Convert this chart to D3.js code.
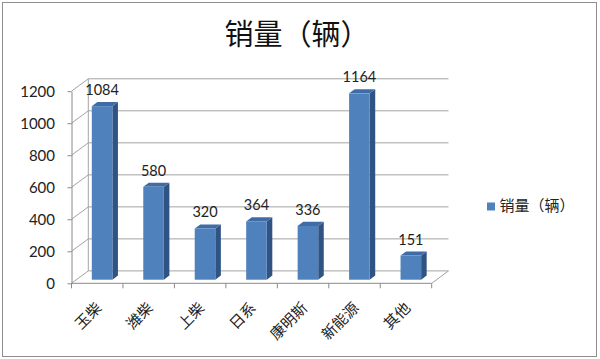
<!DOCTYPE html>
<html>
<head>
<meta charset="utf-8">
<script src="https://cdn.jsdelivr.net/npm/d3@7/dist/d3.min.js"></script>
<style>
  html, body { margin: 0; padding: 0; background: #fff; }
  svg { display: block; }
</style>
</head>
<body>
<svg id="chart" width="600" height="359"></svg>
<script>
const categories = ["玉柴", "潍柴", "上柴", "日系", "康明斯", "新能源", "其他"];
const sales = [1084, 580, 320, 364, 336, 1164, 151];
const yTicks = [0, 200, 400, 600, 800, 1000, 1200];
const titleText = "销量（辆）";
const seriesName = "销量（辆）";

(function () {
const svg = d3.select("#chart");

// outer border
svg.append("rect").attr("x", 2.5).attr("y", 2.5).attr("width", 594).attr("height", 354)
  .attr("fill", "#fff").attr("stroke", "#8e8e8e").attr("stroke-width", 1);

// 3D oblique depth offset
const DX = 16.8, DY = -12.4;
const x0 = 71.5, x1 = 431.7;

const y = d3.scaleLinear().domain([0, 1200]).range([283.3, 91.2]);
const x = d3.scaleBand().domain(categories).range([x0, x1]).paddingInner(0.6).paddingOuter(0.3);
const step = x.step();

const gridColor = "#a3a3a3";

// back wall gridlines
svg.append("g").selectAll("line").data(yTicks).join("line")
  .attr("x1", x0 + DX).attr("x2", x1 + DX)
  .attr("y1", d => y(d) + DY).attr("y2", d => y(d) + DY)
  .attr("stroke", gridColor).attr("stroke-width", 1);

// side wall diagonals
svg.append("g").selectAll("line").data(yTicks).join("line")
  .attr("x1", x0).attr("x2", x0 + DX)
  .attr("y1", d => y(d)).attr("y2", d => y(d) + DY)
  .attr("stroke", gridColor).attr("stroke-width", 1);

// back wall left edge
svg.append("line").attr("x1", x0 + DX).attr("x2", x0 + DX)
  .attr("y1", y(0) + DY).attr("y2", y(1200) + DY)
  .attr("stroke", gridColor).attr("stroke-width", 1);

// floor right edge
svg.append("line").attr("x1", x1).attr("x2", x1 + DX)
  .attr("y1", y(0)).attr("y2", y(0) + DY)
  .attr("stroke", gridColor).attr("stroke-width", 1);

// x axis line + ticks at band boundaries
const axisColor = "#8a8a8a";
svg.append("line").attr("x1", x0).attr("x2", x1).attr("y1", y(0)).attr("y2", y(0))
  .attr("stroke", axisColor).attr("stroke-width", 1);
const bounds = d3.range(categories.length + 1).map(i => x0 + i * step);
svg.append("g").selectAll("line").data(bounds).join("line")
  .attr("x1", d => d).attr("x2", d => d)
  .attr("y1", y(0)).attr("y2", y(0) + 5)
  .attr("stroke", axisColor).attr("stroke-width", 1);

// y axis
const yAxis = svg.append("g").attr("transform", `translate(${x0},0)`)
  .call(d3.axisLeft(y).tickValues(yTicks).tickSize(4).tickSizeOuter(0).tickPadding(12.5).tickFormat(d3.format("d")));
yAxis.select(".domain").attr("stroke", axisColor);
yAxis.selectAll(".tick line").attr("stroke", axisColor);
yAxis.selectAll(".tick text").attr("font-family", "Lato, 'Liberation Sans', sans-serif")
  .attr("font-size", 15).attr("fill", "#222");

// bars
const dF = 0.29, dB = 0.62;
const frontColor = "#4f81bd", sideColor = "#2f5383", topColor = "#3f6ca6";
const bars = svg.append("g").selectAll("g").data(categories.map((c, i) => ({c, v: sales[i]}))).join("g");
bars.each(function(d) {
  const g = d3.select(this);
  const bx = x(d.c), bw = x.bandwidth();
  const fx = bx + dF * DX, fy0 = y(0) + dF * DY, fy1 = y(d.v) + dF * DY;
  const ddx = (dB - dF) * DX, ddy = (dB - dF) * DY;
  g.append("path").attr("d", `M${fx + bw},${fy0}L${fx + bw + ddx},${fy0 + ddy}L${fx + bw + ddx},${fy1 + ddy}L${fx + bw},${fy1}Z`)
    .attr("fill", sideColor);
  g.append("path").attr("d", `M${fx},${fy1}L${fx + ddx},${fy1 + ddy}L${fx + bw + ddx},${fy1 + ddy}L${fx + bw},${fy1}Z`)
    .attr("fill", topColor);
  g.append("rect").attr("x", fx).attr("y", fy1).attr("width", bw).attr("height", fy0 - fy1)
    .attr("fill", frontColor);
  g.append("text").attr("x", fx + bw / 2).attr("y", fy1 - 11)
    .attr("text-anchor", "middle")
    .attr("font-family", "Lato, 'Liberation Sans', sans-serif").attr("font-size", 14.5)
    .attr("fill", "#222").text(d.v);
});

// category labels rotated
svg.append("g").selectAll("text").data(categories).join("text")
  .attr("transform", d => `translate(${x(d) + x.bandwidth() / 2 + 5.3},309) rotate(-45)`)
  .attr("text-anchor", "end")
  .attr("font-family", "'Noto Sans CJK SC', sans-serif").attr("font-size", 15)
  .attr("fill", "#222").text(d => d);

// title
svg.append("text").attr("x", 297).attr("y", 45).attr("text-anchor", "middle")
  .attr("font-family", "'Noto Sans CJK SC', sans-serif").attr("font-size", 29)
  .attr("fill", "#111").text(titleText);

// legend
svg.append("rect").attr("x", 487).attr("y", 202.5).attr("width", 8).attr("height", 8).attr("fill", frontColor);
svg.append("text").attr("x", 499.5).attr("y", 211).attr("font-family", "'Noto Sans CJK SC', sans-serif")
  .attr("font-size", 15).attr("fill", "#222").text(seriesName);
})();
</script>
</body>
</html>
